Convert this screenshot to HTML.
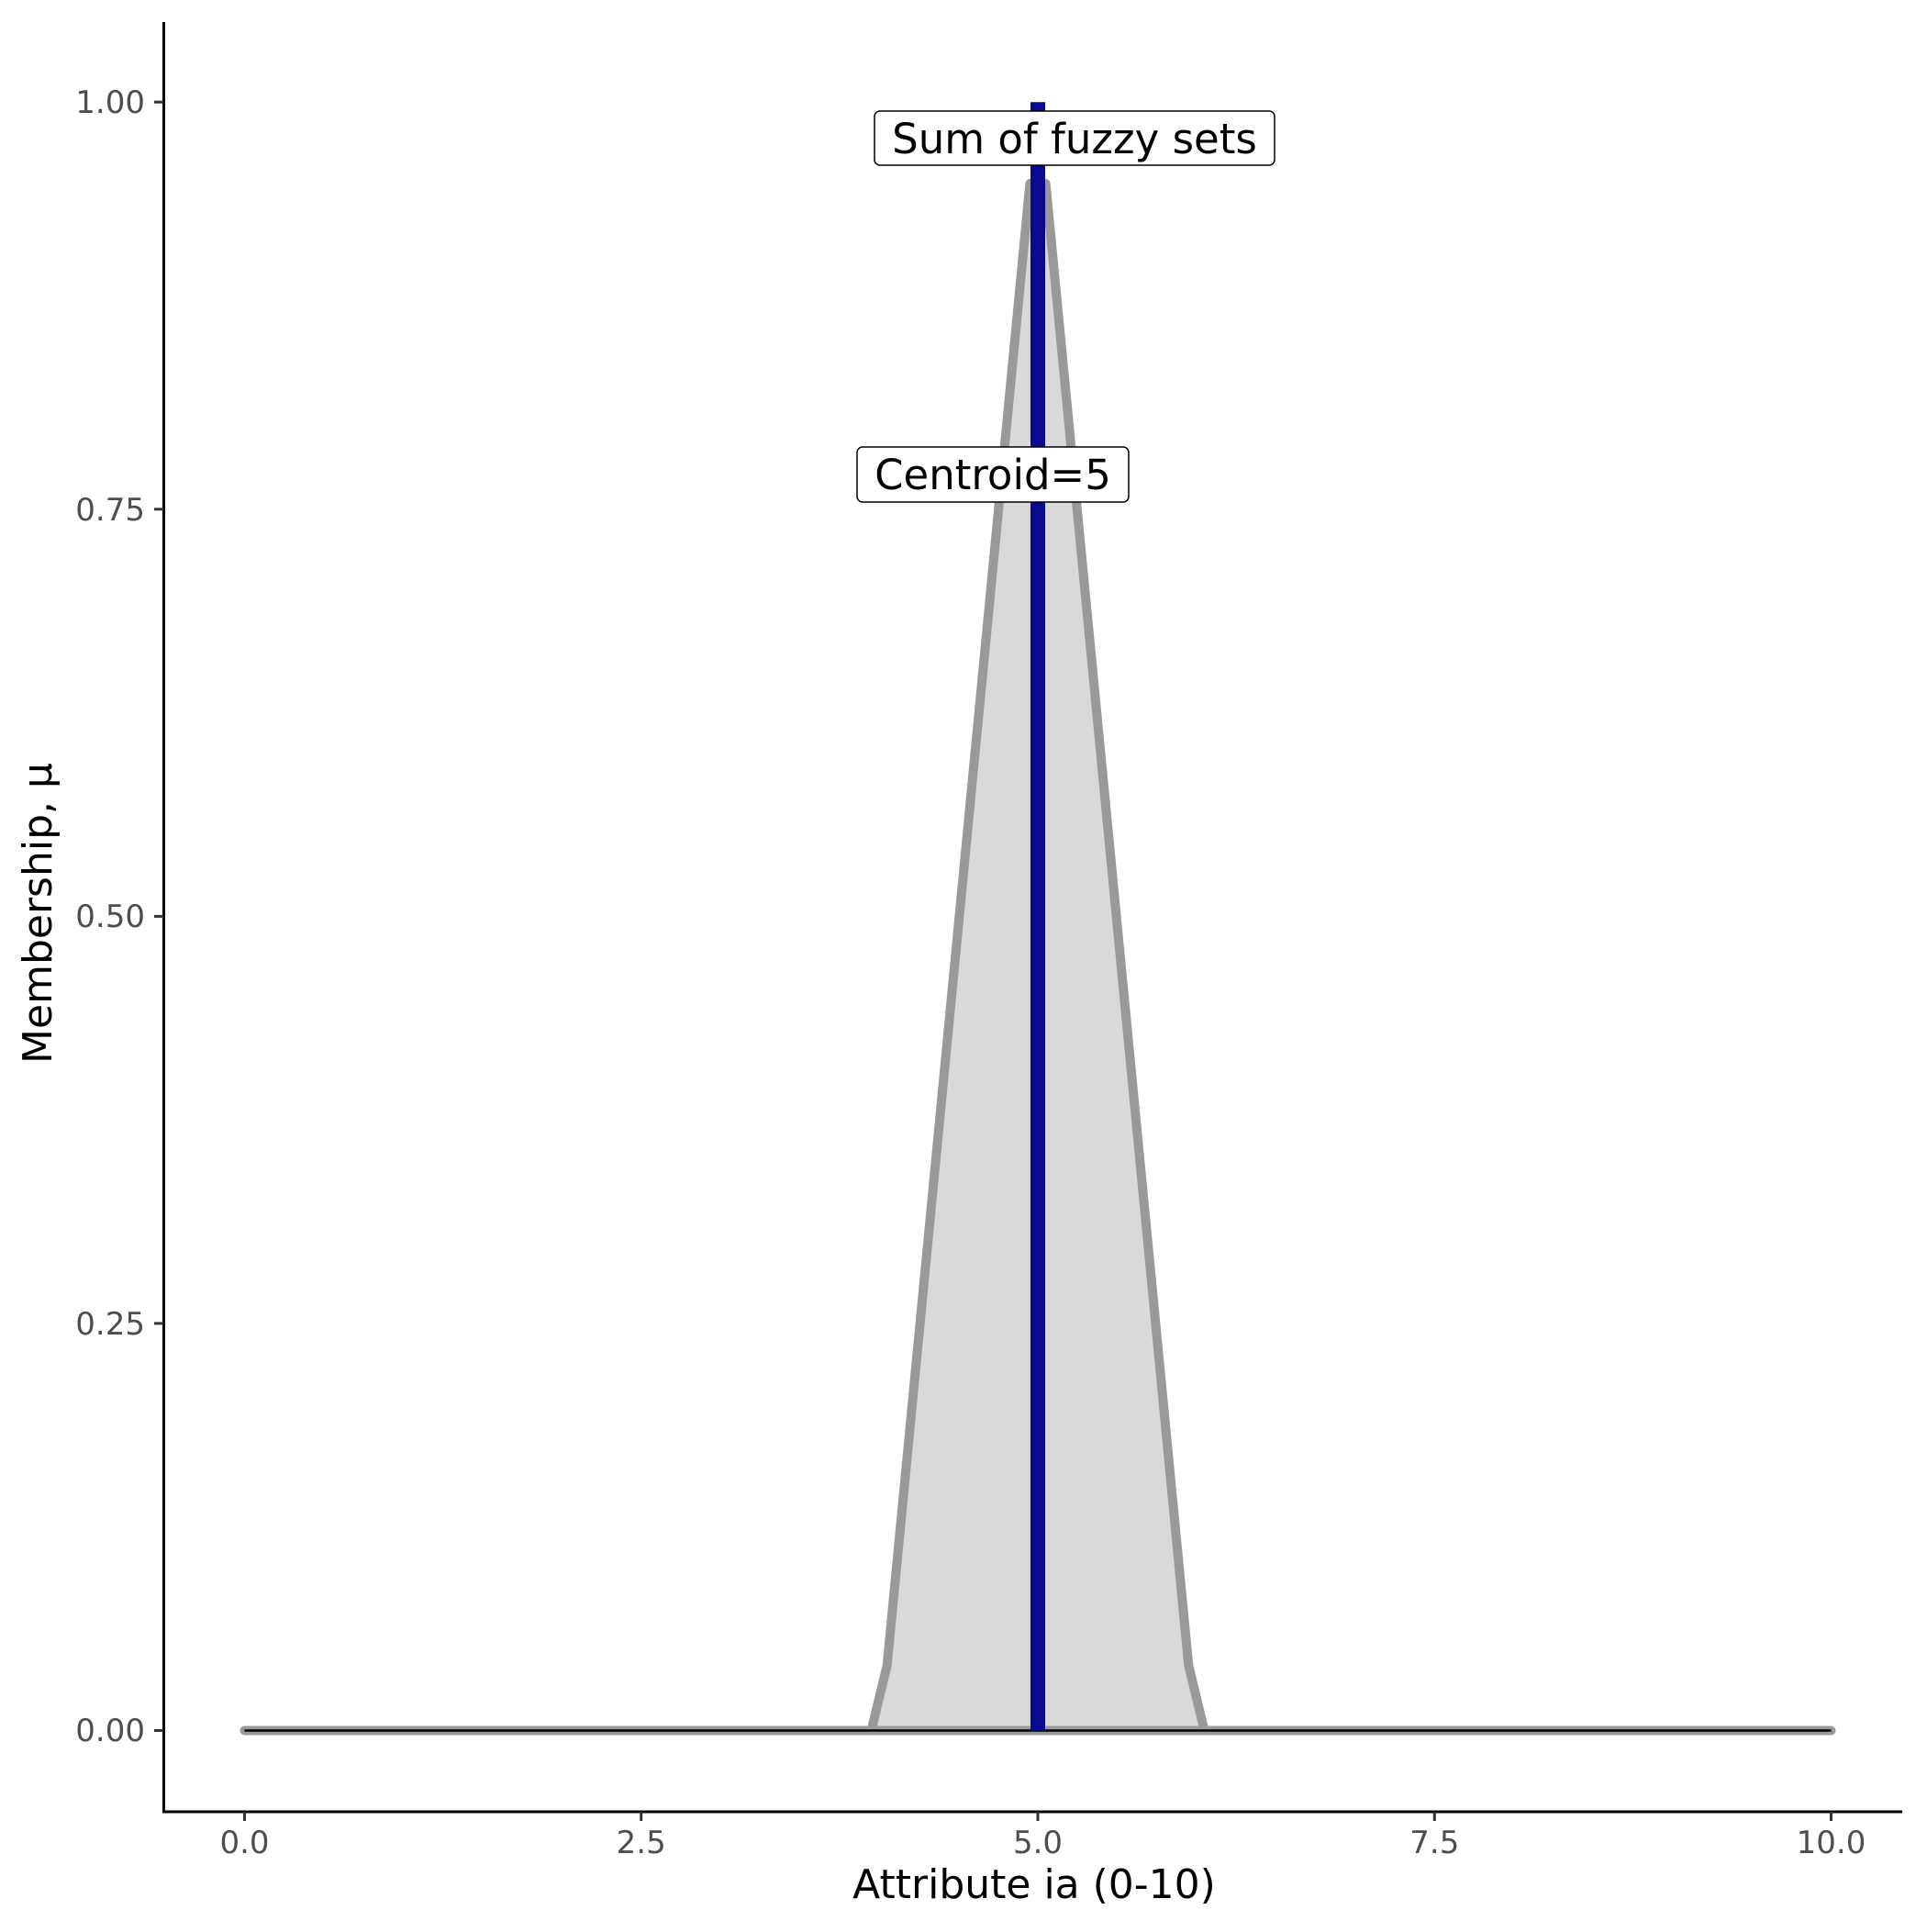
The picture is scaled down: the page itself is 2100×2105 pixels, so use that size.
<!DOCTYPE html>
<html><head><style>html,body{margin:0;padding:0;background:#fff}</style></head>
<body>
<svg width="2100" height="2100" viewBox="0 0 2100 2100" xmlns="http://www.w3.org/2000/svg" font-family="'DejaVu Sans','Liberation Sans',sans-serif">
<rect width="2100" height="2100" fill="#fff"/>
<polygon points="266.5,1885.5 949.5,1885.5 966.7,1814.5 1122.4,199.9 1139.6,199.9 1295.3,1814.5 1312.5,1885.5 1995.5,1885.5" fill="#d9d9d9" stroke="#999999" stroke-width="10" stroke-linejoin="round"/>
<line x1="266.5" y1="1885.5" x2="1995.5" y2="1885.5" stroke="#000" stroke-width="2.5"/>
<line x1="1131" y1="1885.5" x2="1131" y2="111.2" stroke="#0a0a8c" stroke-width="16"/>
<rect x="953" y="121" width="436" height="59" rx="6" fill="#fff" stroke="#000" stroke-width="1.5"/>
<text x="1171" y="167" font-size="45" text-anchor="middle" fill="#000">Sum of fuzzy sets</text>
<rect x="934" y="487" width="296" height="60" rx="6" fill="#fff" stroke="#000" stroke-width="1.5"/>
<text x="1082" y="533" font-size="45" text-anchor="middle" fill="#000">Centroid=5</text>
<line x1="178.5" y1="24" x2="178.5" y2="1975" stroke="#000" stroke-width="3"/>
<line x1="177" y1="1974" x2="2073" y2="1974" stroke="#000" stroke-width="3"/>
<g stroke="#333" stroke-width="3">
<line x1="168" y1="1885.5" x2="178" y2="1885.5"/><line x1="168" y1="1441.9" x2="178" y2="1441.9"/><line x1="168" y1="998.4" x2="178" y2="998.4"/><line x1="168" y1="554.8" x2="178" y2="554.8"/><line x1="168" y1="111.2" x2="178" y2="111.2"/>
<line x1="266.5" y1="1974" x2="266.5" y2="1984"/><line x1="698.7" y1="1974" x2="698.7" y2="1984"/><line x1="1131" y1="1974" x2="1131" y2="1984"/><line x1="1563.3" y1="1974" x2="1563.3" y2="1984"/><line x1="1995.5" y1="1974" x2="1995.5" y2="1984"/>
</g>
<g font-size="34" fill="#4d4d4d" text-anchor="end">
<text x="158" y="1897">0.00</text><text x="158" y="1454">0.25</text><text x="158" y="1010">0.50</text><text x="158" y="567">0.75</text><text x="158" y="123">1.00</text>
</g>
<g font-size="34" fill="#4d4d4d" text-anchor="middle">
<text x="266.5" y="2019">0.0</text><text x="698.7" y="2019">2.5</text><text x="1131" y="2019">5.0</text><text x="1563.3" y="2019">7.5</text><text x="1995.5" y="2019">10.0</text>
</g>
<text x="1127" y="2068" font-size="44" text-anchor="middle" fill="#000">Attribute ia (0-10)</text>
<text transform="translate(56,995) rotate(-90)" font-size="44" text-anchor="middle" fill="#000">Membership, μ</text>
</svg>
</body></html>
